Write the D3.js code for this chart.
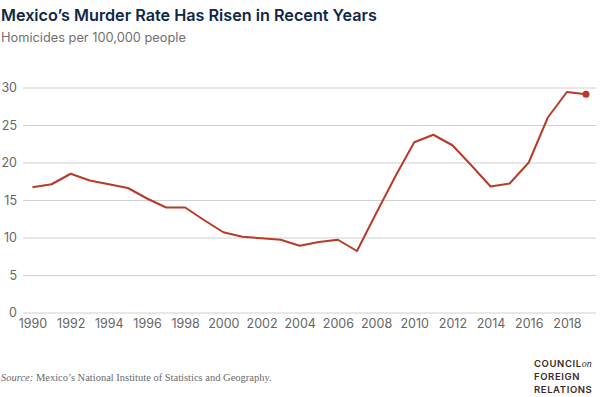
<!DOCTYPE html>
<html>
<head>
<meta charset="utf-8">
<title>Mexico murder rate</title>
<script src="https://cdn.jsdelivr.net/npm/d3@7"></script>
<style>
  body { margin: 0; background: #fff; }
  svg { display: block; }
</style>
</head>
<body>
<script>
// data
var years = [1990,1991,1992,1993,1994,1995,1996,1997,1998,1999,2000,2001,2002,2003,2004,
             2005,2006,2007,2008,2009,2010,2011,2012,2013,2014,2015,2016,2017,2018,2019];
var rates = [16.7,17.1,18.5,17.6,17.1,16.6,15.2,14.0,14.0,12.3,10.7,10.1,9.9,9.7,8.9,
             9.4,9.7,8.2,13.2,18.1,22.7,23.7,22.3,19.6,16.8,17.2,20.0,26.0,29.4,29.1];
var yTicks = [0,5,10,15,20,25,30];
var xTicks = [1990,1992,1994,1996,1998,2000,2002,2004,2006,2008,2010,2012,2014,2016,2018];

var W = 600, H = 397;
var svg = d3.select("body").append("svg").attr("width", W).attr("height", H);

var x = d3.scaleLinear().domain([1990, 2019]).range([32.5, 586]);
var y = d3.scaleLinear().domain([0, 30]).range([312.5, 87.5]);

// titles
svg.append("text").attr("x", 1).attr("y", 21)
  .style("font-family", "Inter, 'Open Sans', sans-serif").style("font-weight", "600")
  .style("font-size", "16.2px").style("fill", "#0f2847")
  .text("Mexico\u2019s Murder Rate Has Risen in Recent Years");
svg.append("text").attr("x", 1).attr("y", 42)
  .style("font-family", "Inter, 'Open Sans', sans-serif")
  .style("font-size", "12.8px").style("fill", "#707070")
  .text("Homicides per 100,000 people");

// gridlines + y labels
var yAxis = d3.axisLeft(y).tickValues(yTicks).tickSize(-(596 - 23)).tickPadding(6);
var gy = svg.append("g").attr("transform", "translate(23,0)").call(yAxis);
gy.select(".domain").remove();
gy.selectAll(".tick line").attr("stroke", "#d0d0d0").attr("stroke-width", 1);
gy.selectAll(".tick text")
  .style("font-family", "Inter, 'Open Sans', sans-serif").style("font-size", "12.5px")
  .style("fill", "#666");

// x labels
var xAxis = d3.axisBottom(x).tickValues(xTicks).tickFormat(d3.format("d")).tickSize(0).tickPadding(7);
var gx = svg.append("g").attr("transform", "translate(0,312.5)").call(xAxis);
gx.select(".domain").remove();
gx.selectAll(".tick text")
  .style("font-family", "Inter, 'Open Sans', sans-serif").style("font-size", "12.5px")
  .style("fill", "#666");

// line
var line = d3.line()
  .x(function(d, i) { return x(years[i]); })
  .y(function(d) { return y(d); });

svg.append("path")
  .attr("d", line(rates))
  .attr("fill", "none")
  .attr("stroke", "#b93a26")
  .attr("stroke-width", 2)
  .attr("stroke-linejoin", "round");

svg.append("circle")
  .attr("cx", x(years[years.length - 1]))
  .attr("cy", y(rates[rates.length - 1]))
  .attr("r", 3.5)
  .attr("fill", "#b93a26");

// source
var src = svg.append("text").attr("x", 1).attr("y", 381)
  .style("font-family", "'Liberation Serif', 'DejaVu Serif', serif")
  .style("font-size", "10.5px").style("fill", "#6a6a6a");
src.append("tspan").style("font-style", "italic").text("Source: ");
src.append("tspan").text("Mexico\u2019s National Institute of Statistics and Geography.");

// logo
var logo = svg.append("g").style("font-family", "Inter, 'Open Sans', sans-serif")
  .style("font-weight", "600").style("font-size", "9.5px").style("fill", "#3b2a26")
  .style("letter-spacing", "0.6px");
var c1 = logo.append("text").attr("x", 534).attr("y", 367);
c1.append("tspan").text("COUNCIL");
c1.append("tspan").style("font-family", "'Liberation Serif', serif").style("font-style", "italic")
  .style("font-weight", "400").style("letter-spacing", "0px").style("font-size", "10px").text("on");
logo.append("text").attr("x", 534).attr("y", 380).text("FOREIGN");
logo.append("text").attr("x", 534).attr("y", 393).text("RELATIONS");
</script>
</body>
</html>
